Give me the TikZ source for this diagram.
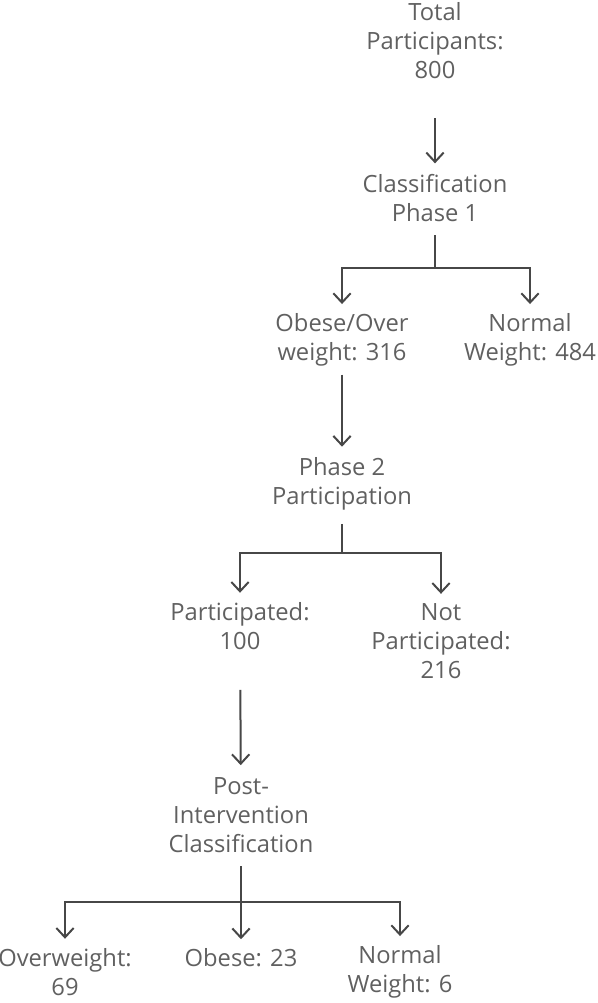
\documentclass[tikz,border=0pt]{standalone}
\usepackage{fontspec}
\setmainfont{Open Sans}
\usetikzlibrary{arrows.meta}
\definecolor{txtgray}{HTML}{606060}
\definecolor{lngray}{HTML}{474747}
\begin{document}
\begin{tikzpicture}[x=0.75pt,y=-0.75pt,
  lbl/.style={align=center,text=txtgray,font=\fontsize{17.8pt}{21.75pt}\selectfont,inner sep=0pt},
  ln/.style={draw=lngray,line width=1.5pt},
  arr/.style={ln,-{Straight Barb[length=7pt,width=13pt]}}]
\useasboundingbox (0,0) rectangle (597,1003);

  \node[lbl] (total) at (435,41) {Total\\Participants:\\800};
  \node[lbl] (class1) at (435,198) {Classification\\Phase 1};
  \node[lbl] (obese) at (342,340) {Obese/Over\\weight: 316};  \node[lbl] (normal) at (530,340) {Normal\\Weight: 484};
  \node[lbl] (phase2) at (342,484) {Phase 2\\Participation};
  \node[lbl] (part) at (240,626) {Participated:\\100};  \node[lbl] (notpart) at (441,641) {Not\\Participated:\\216};
  \node[lbl] (post) at (241,815) {Post-\\Intervention\\Classification};
  \node[lbl] (overw) at (65,972) {Overweight:\\69};  \node[lbl] (obes) at (241,958) {Obese: 23};  \node[lbl] (normw) at (400,972) {Normal\\Weight: 6};

  \coordinate (j1) at (435,268); \coordinate (j2) at (342,553); \coordinate (j3) at (241,902);

  \draw[arr,shorten <=29pt,shorten >=8pt] (total) -- (class1);
  \draw[ln,shorten <=10pt] (class1) -- (j1);
  \draw[arr,shorten >=7pt] (j1) -| (obese);  \draw[arr,shorten >=7pt] (j1) -| (normal);
  \draw[arr,shorten <=6pt,shorten >=8pt] (obese) -- (phase2);
  \draw[ln,shorten <=10pt] (phase2) -- (j2);
  \draw[arr,shorten >=7pt] (j2) -| (part);  \draw[arr,shorten >=7pt] (j2) -| (notpart);
  \draw[arr,shorten <=30pt,shorten >=9pt] (part) -- (post);
  \draw[ln,shorten <=10pt] (post) -- (j3);
  \draw[arr,shorten >=7pt] (j3) -| (overw);  \draw[arr,shorten >=7pt] (j3) -| (obes);  \draw[arr,shorten >=7pt] (j3) -| (normw);

\end{tikzpicture}
\end{document}
